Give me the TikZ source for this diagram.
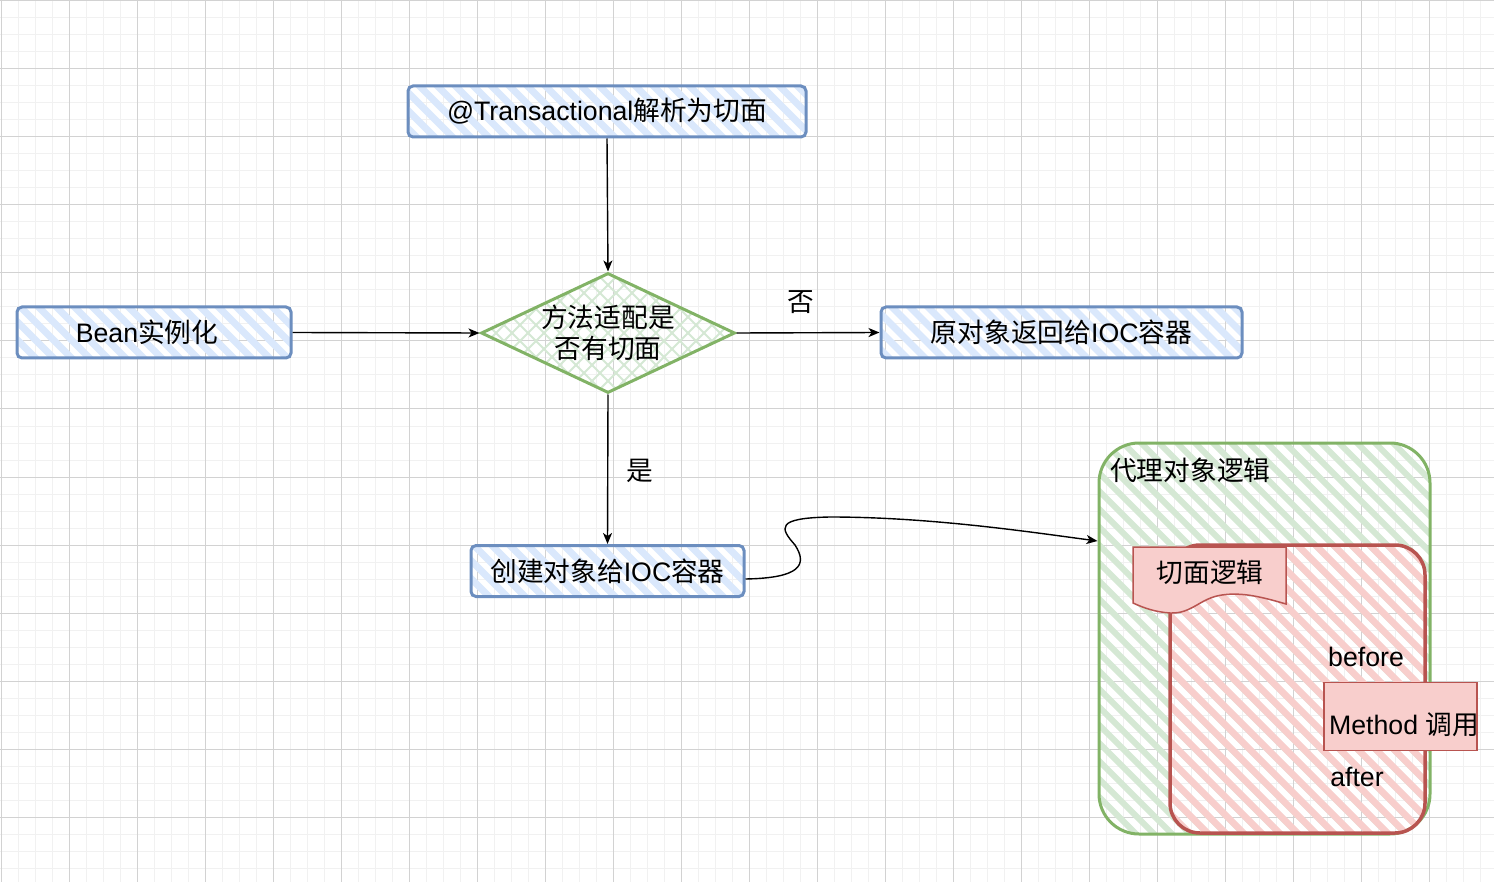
\documentclass[tikz,border=0pt]{standalone}
\usepackage{fontspec}
\setmainfont{Liberation Sans}
\newfontfamily\cjk{Noto Sans CJK SC}
\usetikzlibrary{shapes.geometric,arrows.meta,calc}
\definecolor{bluefill}{HTML}{DAE8FC}
\definecolor{bluestroke}{HTML}{6C8EBF}
\definecolor{greenfill}{HTML}{D5E8D4}
\definecolor{greenstroke}{HTML}{82B366}
\definecolor{redfill}{HTML}{F8CECC}
\definecolor{redstroke}{HTML}{B85450}
\definecolor{gridminor}{HTML}{F1F1F1}
\definecolor{gridmajor}{HTML}{D2D2D2}
\newcommand\zh[1]{{\cjk #1}}
\begin{document}
\begin{tikzpicture}[x=1pt,y=-1pt,
  stripes/.style n args={3}{path picture={
     \foreach \k in {-30,...,30}{
       \draw[line width=#2, draw=#1, line cap=round] ($(path picture bounding box.center)+(\k*#3,0)$) ++(-450,-450) -- ++(900,900);
     }}},
  crosshatch/.style n args={3}{path picture={
     \foreach \k in {-24,...,24}{
       \draw[line width=#2, draw=#1] ($(path picture bounding box.center)+(\k*#3,0)$) ++(-300,-300) -- ++(600,600);
       \draw[line width=#2, draw=#1] ($(path picture bounding box.center)+(\k*#3,0)$) ++(-300,300) -- ++(600,-600);
     }}},
  txt/.style={font=\fontsize{26.7}{31}\selectfont, inner sep=0, text=black},
  bluebox/.style={draw=bluestroke, line width=3pt, rounded corners=5pt,
     stripes={bluefill}{7pt}{18}, minimum height=51pt, inner sep=0,
     font=\fontsize{26.7}{31}\selectfont},
  arr/.style={-{Stealth[length=11pt,width=9pt,inset=3pt]}, line width=1.4pt, draw=black},
  pinkbox/.style={draw=redstroke, fill=redfill, line width=1.5pt}
]
\useasboundingbox (0,0) rectangle (1494,882);
\fill[white] (0,0) rectangle (1494,882);
% grid
\foreach \x in {1,18,...,1494} \draw[gridminor, line width=1pt] (\x,0) -- (\x,882);
\foreach \y in {1,18,...,882} \draw[gridminor, line width=1pt] (0,\y) -- (1494,\y);
\foreach \x in {1,69,...,1494} \draw[gridmajor, line width=1pt] (\x,0) -- (\x,882);
\foreach \y in {1,69,...,882} \draw[gridmajor, line width=1pt] (0,\y) -- (1494,\y);

% proxy container
\node[draw=greenstroke, line width=3pt, rounded corners=40pt, stripes={greenfill}{6pt}{18},
      minimum width=331pt, minimum height=391pt, inner sep=0] (proxy) at (1264.5,638.5) {};
\node[txt, anchor=west] (proxylbl) at (1110,470) {\zh{代理对象逻辑}};
% aspect container
\node[draw=redstroke, line width=3.5pt, rounded corners=30pt, stripes={redfill}{6.5pt}{18},
      minimum width=255pt, minimum height=288pt, inner sep=0] (aspect) at (1297.5,689) {};
% document shape
\draw[pinkbox] (1133,547) -- (1286,547) -- (1286,604)
   .. controls (1262,597) and (1242,592) .. (1222,595)
   .. controls (1200,598) and (1192,614) .. (1170,613)
   .. controls (1155,612) and (1144,608) .. (1133,603) -- cycle;
\node[txt] (aspectlbl) at (1210,572) {\zh{切面逻辑}};
\node[txt] (before) at (1366,657) {before};
\node[pinkbox, minimum width=153pt, minimum height=68pt, inner sep=0] (method) at (1400.5,716.5) {};
\node[txt] (methodlbl) at (1404,725) {Method \zh{调用}};
\node[txt] (after) at (1357,777) {after};

% boxes
\node[bluebox, minimum width=398pt] (top) at (607,111.5) {@Transactional\zh{解析为切面}};
\node[bluebox, minimum width=274pt] (bean) at (154,332.5) {\hspace*{-14pt}Bean\zh{实例化}};
\node[bluebox, minimum width=361pt] (orig) at (1061.5,332.5) {\zh{原对象返回给}IOC\zh{容器}};
\node[bluebox, minimum width=273pt] (create) at (607.5,571) {\zh{创建对象给}IOC\zh{容器}};
\node[diamond, draw=greenstroke, line width=3pt, crosshatch={greenfill}{1.8pt}{16},
      minimum width=254pt, minimum height=120pt, inner sep=0] (dec) at (608,333) {};
\node[txt, align=center] (declbl) at (608,333) {\zh{方法适配是}\\\zh{否有切面}};

% connectors
\draw[arr] (top.south) -- (dec.north);
\draw[arr] (bean.east) -- (dec.west);
\draw[arr] (dec.east) -- (orig.west) node[txt, pos=0.45, above=18pt] (no) {\zh{否}};
\draw[arr] (dec.south) -- (create.north) node[txt, pos=0.51, right=18pt] (yes) {\zh{是}};
\coordinate (cin) at (proxy.west |- 0,541);
\draw[arr] ($(create.east)+(0,8)$) .. controls (800,578) and (808,565) .. (795,545)
   .. controls (780,528) and (775,518) .. (830,517)
   .. controls (930,517) and (1030,532) .. (cin);
\end{tikzpicture}
\end{document}
